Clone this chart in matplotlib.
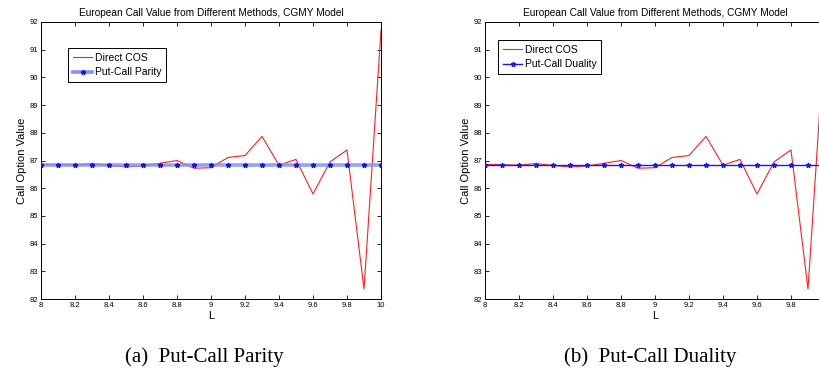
import matplotlib
matplotlib.use("Agg")
import matplotlib.pyplot as plt
from matplotlib.lines import Line2D

L = [8.0, 8.1, 8.2, 8.3, 8.4, 8.5, 8.6, 8.7, 8.8, 8.9, 9.0,
     9.1, 9.2, 9.3, 9.4, 9.5, 9.6, 9.7, 9.8, 9.9, 10.0]
direct_cos = [86.86, 86.85, 86.83, 86.89, 86.82, 86.77, 86.80, 86.90, 87.00, 86.72, 86.74,
              87.11, 87.18, 87.87, 86.83, 87.04, 85.79, 86.95, 87.38, 82.36, 91.70]
reference = [86.85] * len(L)

xticks = [8, 8.2, 8.4, 8.6, 8.8, 9, 9.2, 9.4, 9.6, 9.8, 10]
xticklabels_a = ["8", "8.2", "8.4", "8.6", "8.8", "9", "9.2", "9.4", "9.6", "9.8", "10"]
xticklabels_b = ["8", "8.2", "8.4", "8.6", "8.8", "9", "9.2", "9.4", "9.6", "9.8", ""]
yticks = list(range(82, 93))

title = "European Call Value from Different Methods, CGMY Model"
legend_labels = [("Direct COS", "Put-Call Parity"), ("Direct COS", "Put-Call Duality")]
captions = ["(a)  Put-Call Parity", "(b)  Put-Call Duality"]

plt.rcParams['font.family'] = ['Liberation Sans', 'DejaVu Sans']
fig = plt.figure(figsize=(8.2, 3.72), dpi=100)

W, H = 820, 372
positions = [(41, 22, 340, 277), (485, 22, 340, 277)]
legend_pos = [(68, 48), (498, 40)]
caption_x = [204, 650]
xtl = [xticklabels_a, xticklabels_b]

for i, (px, py, pw, ph) in enumerate(positions):
    ax = fig.add_axes([px / W, 1 - (py + ph) / H, pw / W, ph / H])
    h1, = ax.plot(L, direct_cos, color="#ff2020", lw=0.8)
    if i == 0:
        ax.plot(L, reference, color="#8090ff", lw=2.6, alpha=0.85, zorder=3)
        ax.plot(L, reference, color="#1010ff", lw=0, marker="*", ms=3.5, zorder=4)
        h2 = Line2D([], [], color="#8090ff", lw=2.6, marker="*", ms=3.5,
                    markerfacecolor="#1010ff", markeredgecolor="#1010ff")
    else:
        ax.plot(L, reference, color="#1515ff", lw=1.0, marker="*", ms=3.5, zorder=4)
        h2 = Line2D([], [], color="#1515ff", lw=1.0, marker="*", ms=3.5)
    ax.set_xlim(8, 10)
    ax.set_ylim(82, 92)
    ax.set_xticks(xticks)
    ax.set_xticklabels(xtl[i])
    ax.set_yticks(yticks)
    ax.tick_params(direction="in", top=True, right=True, labelsize=5.5, length=3, width=0.6, pad=2)
    for s in ax.spines.values():
        s.set_linewidth(0.7)
    ax.set_title(title, fontsize=7.3, pad=4)
    ax.set_xlabel("L", fontsize=8, labelpad=1.5)
    ax.set_ylabel("Call Option Value", fontsize=8, labelpad=2)
    lx, ly = legend_pos[i]
    leg = ax.legend([h1, h2], list(legend_labels[i]), loc="upper left",
                    bbox_to_anchor=((lx - px) / pw, 1 - (ly - py) / ph),
                    fontsize=7.5, frameon=True, fancybox=False, framealpha=1,
                    edgecolor="black", borderpad=0.45, handlelength=1.9,
                    handletextpad=0.2, labelspacing=0.45, borderaxespad=0)
    leg.get_frame().set_linewidth(0.7)
    fig.text(caption_x[i] / W, 1 - 357 / H, captions[i], ha="center", va="center",
             fontsize=15, family=["Liberation Serif", "DejaVu Serif"])

fig.savefig("out.png", dpi=100)
